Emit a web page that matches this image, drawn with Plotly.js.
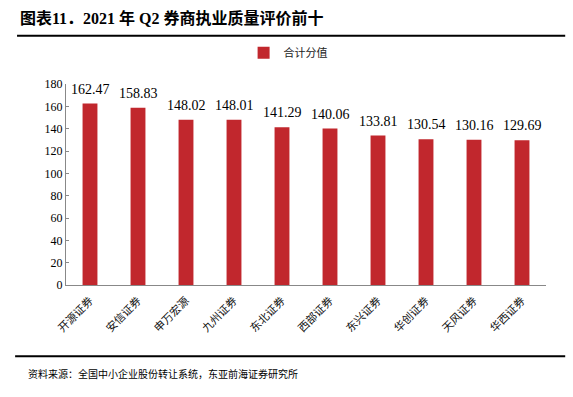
<!DOCTYPE html>
<html><head><meta charset="utf-8">
<script src="https://cdn.plot.ly/plotly-3.0.1.min.js"></script>
<style>body{margin:0;background:#fff}#c{width:573px;height:397px}</style>
</head><body><div id="c"></div>
<script>
const categories = ["开源证券","安信证券","申万宏源","九州证券","东北证券","西部证券","东兴证券","华创证券","天风证券","华西证券"];
const values = [162.47,158.83,148.02,148.01,141.29,140.06,133.81,130.54,130.16,129.69];
const seriesName = "合计分值";
const titleText = "图表11．2021 年 Q2 券商执业质量评价前十";
const sourceText = "资料来源：全国中小企业股份转让系统，东亚前海证券研究所";

const serif = "Liberation Serif, Times New Roman, serif";
const cjk = "Noto Sans CJK SC, sans-serif";

const trace = {
  type: "bar", x: categories, y: values, name: seriesName,
  marker: {color: "#C1272D"}, width: 0.31, cliponaxis: false
};
const labelAnns = categories.map((c, i) => ({
  x: c, y: values[i], xref: "x", yref: "y", text: values[i].toFixed(2),
  showarrow: false, yanchor: "bottom", yshift: 5,
  font: {family: serif, size: 14, color: "#000"}
}));
const layout = {
  width: 573, height: 397,
  margin: {l: 66, r: 27, t: 84, b: 112},
  paper_bgcolor: "#fff", plot_bgcolor: "#fff",
  showlegend: true,
  legend: {orientation: "h", x: 0.37, xanchor: "left", y: 1.155, yanchor: "middle",
           font: {family: cjk, size: 11, color: "#222"}, bgcolor: "rgba(0,0,0,0)"},
  xaxis: {type: "category", showline: true, linecolor: "#888", linewidth: 1,
          ticks: "", tickangle: -45, ticklabelstandoff: 4,
          tickfont: {family: cjk, size: 11, color: "#111"}, showgrid: false},
  yaxis: {range: [0, 180], dtick: 20, showline: true, linecolor: "#888", linewidth: 1,
          ticks: "inside", ticklen: 3, tickcolor: "#888", showgrid: false, zeroline: false,
          tickfont: {family: serif, size: 12, color: "#000"}},
  shapes: [
    {type: "line", xref: "paper", yref: "paper", x0: -0.102, x1: 1.04, y0: 1.24, y1: 1.24,
     line: {color: "#000", width: 2}},
    {type: "line", xref: "paper", yref: "paper", x0: -0.106, x1: 1.04, y0: -0.355, y1: -0.355,
     line: {color: "#000", width: 2}}
  ],
  annotations: [
    {text: "<b>" + titleText + "</b>", xref: "paper", yref: "paper", x: -0.1, y: 1.33,
     xanchor: "left", yanchor: "middle", showarrow: false,
     font: {family: "Liberation Serif, Noto Sans CJK SC, serif", size: 16, color: "#000"}},
    {text: sourceText, xref: "paper", yref: "paper", x: -0.083, y: -0.44,
     xanchor: "left", yanchor: "middle", showarrow: false,
     font: {family: cjk, size: 10, color: "#000"}}
  ].concat(labelAnns)
};
Plotly.newPlot("c", [trace], layout, {displayModeBar: false, staticPlot: true});
</script></body></html>
